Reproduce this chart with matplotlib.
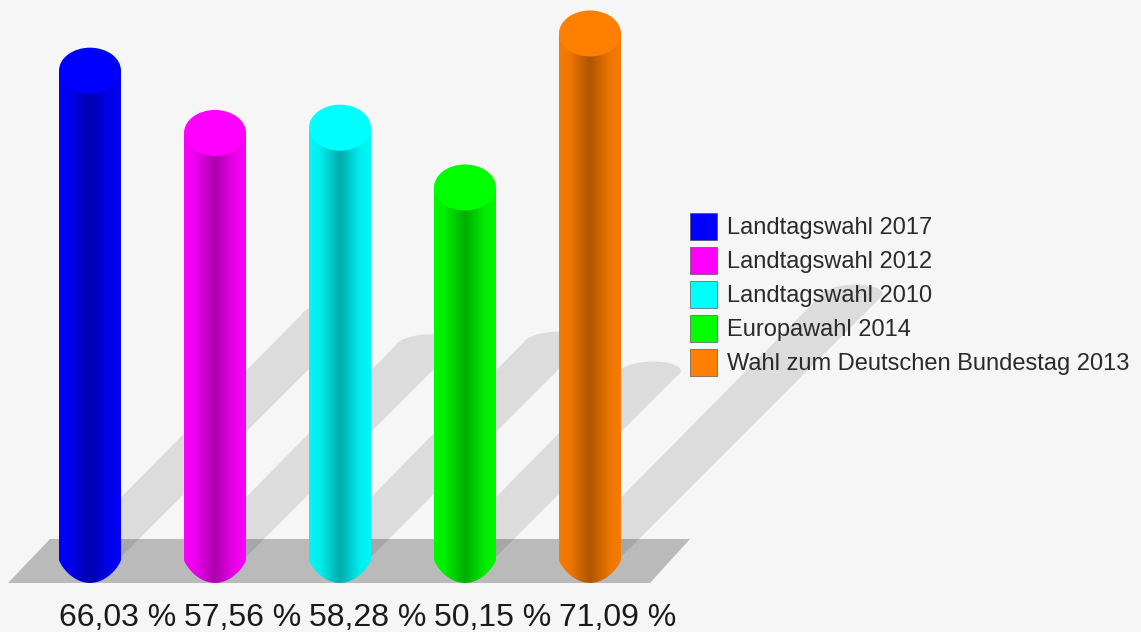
"""Wahlbeteiligung: 3D-artige Säulen mit Schatten und Bodenfläche."""

import matplotlib.pyplot as plt
import numpy as np
from matplotlib.colors import to_rgb
from matplotlib.patches import Ellipse, Patch, PathPatch, Polygon
from matplotlib.path import Path

plt.rcParams["font.family"] = ["Liberation Sans", "DejaVu Sans"]

labels = [
    "Landtagswahl 2017",
    "Landtagswahl 2012",
    "Landtagswahl 2010",
    "Europawahl 2014",
    "Wahl zum Deutschen Bundestag 2013",
]
values = [66.03, 57.56, 58.28, 50.15, 71.09]
value_labels = ["66,03 %", "57,56 %", "58,28 %", "50,15 %", "71,09 %"]
colors = ["#0000ff", "#ff00ff", "#00ffff", "#00ff00", "#ff7f00"]

BACKGROUND = "#f6f6f6"
PX_PER_CAT = 125.0
PX_PER_VALUE = 7.354
HALF_W = 31 / PX_PER_CAT
CAP_H = 23 / PX_PER_VALUE
SHADOW_RISE = 0.5
SHADOW_SHEAR = 1.0 * PX_PER_VALUE / PX_PER_CAT

fig = plt.figure(figsize=(11.41, 6.32), dpi=100, facecolor=BACKGROUND)
ax = fig.add_axes([0, 0, 1, 1])
ax.set_facecolor(BACKGROUND)
ax.axis("off")
xlim = (-90 / PX_PER_CAT, (1141 - 90) / PX_PER_CAT)
ylim = ((557 - 632) / PX_PER_VALUE, 557 / PX_PER_VALUE)

# Bodenfläche
ax.add_patch(Polygon(
    [(-0.656, -3.54), (4.48, -3.54), (4.8, 2.45), (-0.32, 2.45)],
    closed=True, facecolor="#bababa", edgecolor="none", zorder=1,
))

half = np.linspace(np.pi, 2 * np.pi, 40)
tip = np.linspace(0, np.pi, 40)

for i, value in enumerate(values):
    # Schatten: gescherte Säule mit abgerundetem Ende
    rise = value * SHADOW_RISE
    cap_y = CAP_H * 0.48 * np.sin(tip)
    cap_x = HALF_W * np.cos(tip) + 0.4 * cap_y * SHADOW_SHEAR
    shadow = np.vstack([
        [[i - HALF_W * 0.9, 0], [i + HALF_W, 0]],
        np.column_stack([i + rise * SHADOW_SHEAR + cap_x, rise + cap_y]),
    ])
    ax.add_patch(Polygon(shadow, closed=True, facecolor="black",
                         edgecolor="none", alpha=0.1, zorder=2))

    # Säule: Farbverlauf, unten spitz zulaufend
    u = np.linspace(-1, 1, 125)
    shade = np.interp(np.abs(u), [0, 0.12, 0.65, 1], [0.68, 0.72, 0.93, 0.97])
    gradient = shade[None, :, None] * np.array(to_rgb(colors[i]))[None, None, :]
    image = ax.imshow(
        gradient,
        extent=(i - HALF_W, i + HALF_W, -CAP_H - 1, value),
        aspect="auto", interpolation="bilinear", zorder=3,
    )
    bottom_x = np.cos(half)
    bottom_y = -0.4 - CAP_H * (1 - bottom_x ** 2) ** 0.8
    body = np.vstack([
        np.column_stack([i + HALF_W * bottom_x, bottom_y]),
        [[i + HALF_W, value], [i - HALF_W, value]],
    ])
    clip = PathPatch(Path(np.vstack([body, body[0]])), transform=ax.transData)
    image.set_clip_path(clip)

    # Deckel
    ax.add_patch(Ellipse((i, value + 0.1), 2 * HALF_W, 2 * CAP_H,
                         facecolor=colors[i], edgecolor="none", zorder=4))

    ax.text(i - HALF_W, -8.25, value_labels[i], ha="left", va="center",
            fontsize=23, color="#1a1a1a", zorder=5)

ax.set_xlim(xlim)
ax.set_ylim(ylim)

handles = [Patch(facecolor=c, edgecolor="#404040", linewidth=0.4) for c in colors]
ax.legend(
    handles, labels,
    loc="upper left", bbox_to_anchor=(690 / 1141, 1 - 213 / 632),
    frameon=False, fontsize=17, labelcolor="#2a2a2a",
    borderpad=0, borderaxespad=0,
    handlelength=1.143, handleheight=1.382,
    handletextpad=0.42, labelspacing=0.296,
).set_zorder(6)

fig.savefig("out.png", dpi=100, facecolor=BACKGROUND)
plt.close(fig)
